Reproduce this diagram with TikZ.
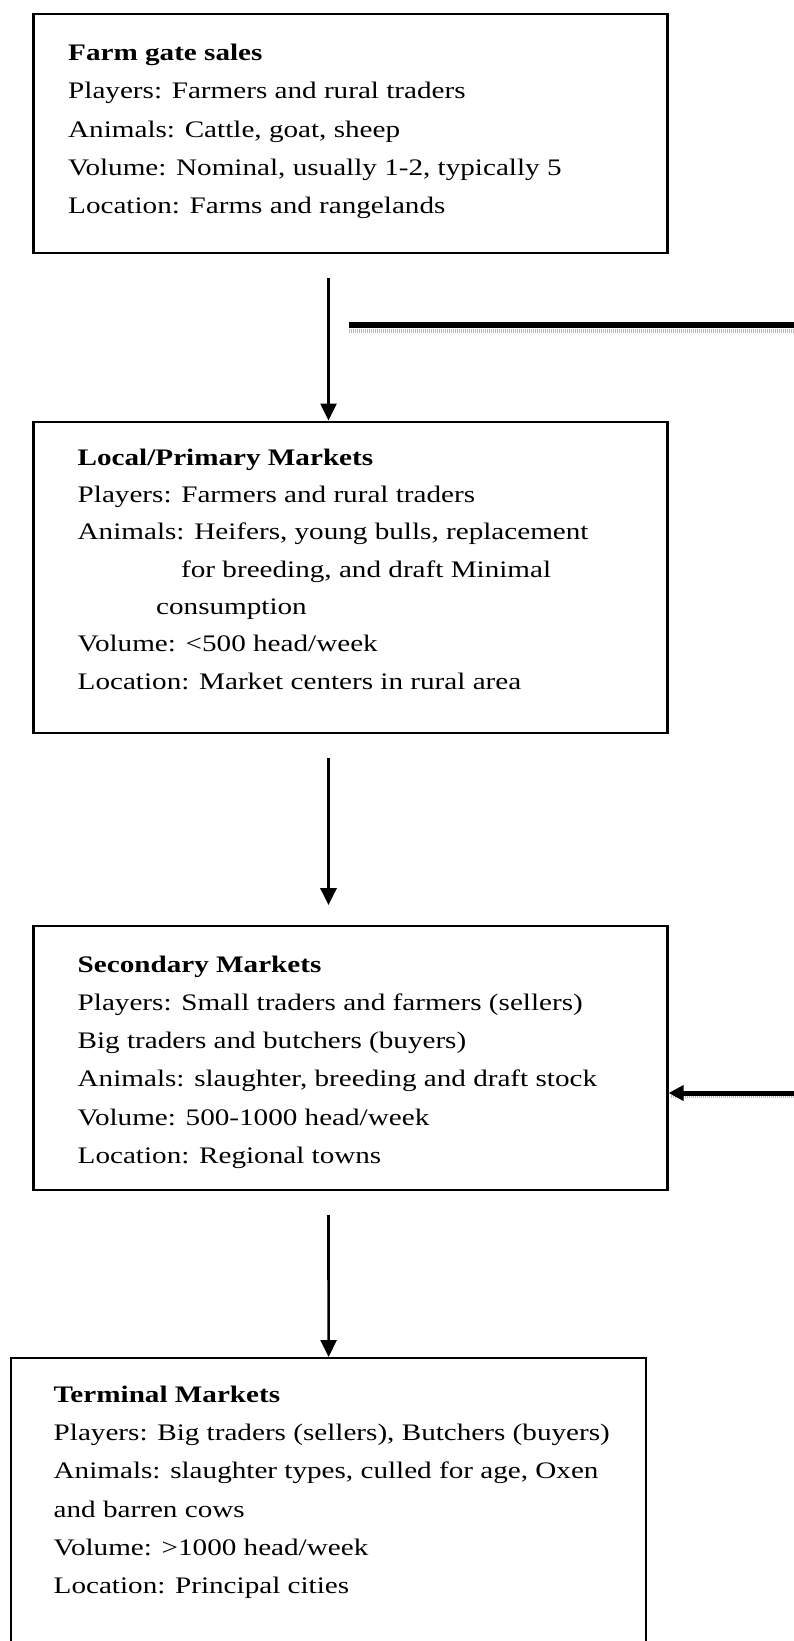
\documentclass[tikz,border=0pt]{standalone}
\usepackage{fontspec}
\setmainfont{Liberation Serif}[FakeStretch=1.23]
\usetikzlibrary{positioning, arrows.meta}
\tikzset{
	stage/.style={
		draw,
		line width=2.2pt,
		inner sep=0pt,
		anchor=north west
	},
	info/.style={
		anchor=north west,
		align=left,
		inner sep=0pt,
		font=\fontsize{23.7}{38.2}\selectfont
	},
	flow/.style={
		line width=2.6pt,
		-{Triangle[width=16pt, length=17pt]}
	},
	feed/.style={
		line width=5.5pt
	},
	shade/.style={
		line width=4pt,
		gray!55,
		dash pattern=on 1pt off 1pt
	}
}
\newcommand{\firstline}{\rule{0pt}{18pt}}

\begin{document}
\begin{tikzpicture}[x=1pt, y=-1pt]
		\useasboundingbox (0,0) rectangle (794,1641);
		\clip (0,0) rectangle (794,1641);
		\node[stage, minimum width=634pt, minimum height=239pt] (farm) at (32.4,12.6) {};
		\node[stage, minimum width=634pt, minimum height=311pt] (local) at (32.4,420.5) {};
		\node[stage, minimum width=634pt, minimum height=264pt] (secondary) at (32.4,925) {};
		\node[stage, minimum width=635pt, minimum height=320pt] (terminal) at (10,1357) {};
		
		\node[info] (farmtext) at (68,42.5) {\firstline\textbf{Farm gate sales}\\
			Players: Farmers and rural traders\\
			Animals: Cattle, goat, sheep\\
			Volume: Nominal, usually 1-2, typically 5\\
			Location: Farms and rangelands};
		\node[info, font=\fontsize{23.7}{37.3}\selectfont] (localtext) at (77.5,447) {\firstline\textbf{Local/Primary Markets}\\
			Players: Farmers and rural traders\\
			Animals: Heifers, young bulls, replacement\\
			\hspace*{103.5pt}for breeding, and draft Minimal\\
			\hspace*{78.5pt}consumption\\
			Volume: {<}500 head/week\\
			Location: Market centers in rural area};
		\node[info] (secondarytext) at (77.5,954) {\firstline\textbf{Secondary Markets}\\
			Players: Small traders and farmers (sellers)\\
			Big traders and butchers (buyers)\\
			Animals: slaughter, breeding and draft stock\\
			Volume: 500-1000 head/week\\
			Location: Regional towns};
		\node[info, font=\fontsize{23.7}{38.3}\selectfont] (terminaltext) at (53.5,1384) {\firstline\textbf{Terminal Markets}\\
			Players: Big traders (sellers), Butchers (buyers)\\
			Animals: slaughter types, culled for age, Oxen\\
			and barren cows\\
			Volume: {>}1000 head/week\\
			Location: Principal cities};
		
		\draw[flow] ([xshift=-22pt, yshift=-24pt]farm.south) -- ([xshift=-22pt]local.north);
		\draw[flow, line width=3.5pt] ([xshift=-22pt, yshift=-24pt]local.south) -- ([xshift=-22pt, yshift=20pt]secondary.north);
		\draw[flow] ([xshift=-22pt, yshift=-24pt]secondary.south) -- (terminal.north);
		
		\coordinate (railstart) at (349,325);
		\coordinate (railend) at (794,325);
		\draw[shade] ([yshift=-5.5pt]railstart) -- ([yshift=-5.5pt]railend);
		\draw[feed] (railstart) -- (railend);
		
		\coordinate (sidein) at (794,1093);
		\draw[shade, line width=2.5pt] ([yshift=-3.5pt]sidein) -- ([xshift=2pt, yshift=-3.5pt]sidein -| secondary.east);
		\draw[feed, line width=5pt, -{Triangle[width=15pt, length=15pt]}] (sidein) -- (sidein -| secondary.east);
\end{tikzpicture}
\end{document}
